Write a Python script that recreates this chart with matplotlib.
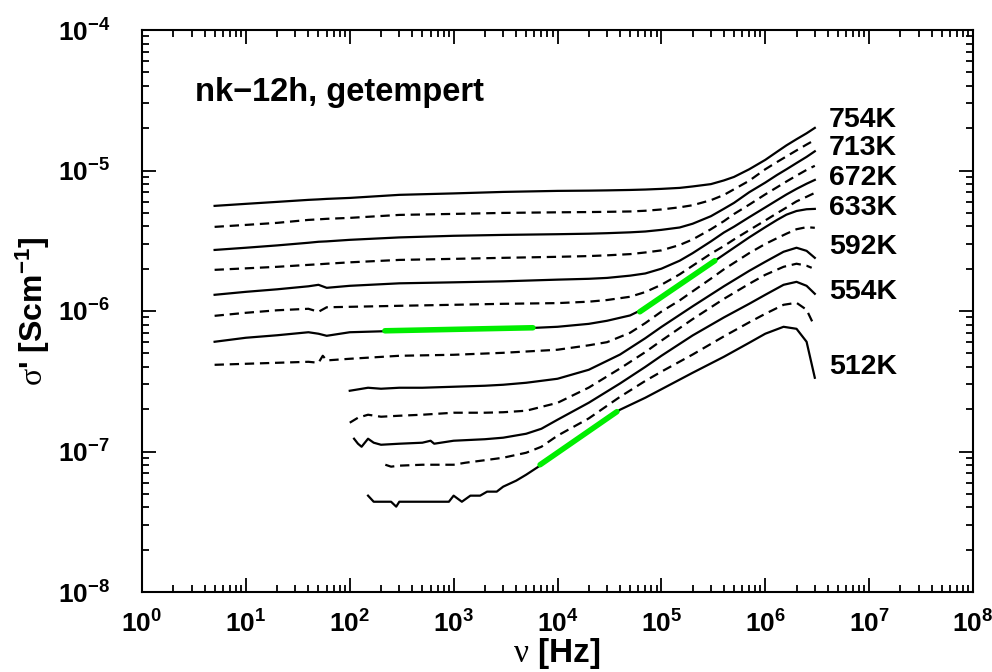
import numpy as np
import matplotlib
matplotlib.use("Agg")
import matplotlib.pyplot as plt
from matplotlib.ticker import FixedLocator, LogLocator, NullFormatter, FuncFormatter

plt.rcParams['font.family'] = ['Liberation Sans', 'DejaVu Sans']
plt.rcParams['mathtext.fontset'] = 'custom'
plt.rcParams['mathtext.rm'] = 'Liberation Serif'
plt.rcParams['mathtext.bf'] = 'Liberation Sans:bold'
plt.rcParams['mathtext.it'] = 'Liberation Sans:italic'

# ---- measured conductivity spectra, sigma' in uS/cm ----
# high-temperature runs start at 5 Hz
freq_a = [5, 10, 20, 40, 50, 60, 100, 300, 1e3, 3e3, 1e4, 2e4, 3e4, 5e4, 7e4,
          1e5, 1.5e5, 2e5, 3e5, 4e5, 5e5, 7e5, 1e6, 1.3e6, 1.6e6, 2e6, 2.5e6, 3e6]
sigma_754K = [5.60, 5.79, 5.98, 6.18, 6.23, 6.28, 6.38, 6.71, 6.87, 7.04,
              7.16, 7.19, 7.22, 7.27, 7.32, 7.40, 7.52, 7.7, 8.0, 8.5, 9.0,
              10.2, 11.9, 13.6, 15.1, 16.7, 18.4, 20.1]
sigma_d1 = [3.97, 4.10, 4.24, 4.45, 4.49, 4.53, 4.60, 4.83, 4.91, 4.99,
            5.04, 5.06, 5.08, 5.11, 5.17, 5.28, 5.47, 5.66, 6.15, 6.7, 7.35,
            8.45, 10.2, 11.5, 12.6, 13.9, 15.3, 16.5]
sigma_713K = [2.72, 2.82, 2.93, 3.06, 3.11, 3.13, 3.21, 3.34, 3.43, 3.48,
              3.52, 3.55, 3.58, 3.63, 3.68, 3.78, 3.93, 4.18, 4.73, 5.34, 5.88,
              7.0, 8.2, 9.3, 10.2, 11.3, 12.5, 13.7]
sigma_d2 = [1.963, 2.012, 2.063, 2.13, 2.15, 2.17, 2.22, 2.31, 2.35, 2.39,
            2.43, 2.46, 2.49, 2.54, 2.61, 2.70, 2.95, 3.23, 3.82, 4.36, 4.90,
            5.71, 6.76, 7.6, 8.35, 9.2, 10.1, 10.8]
sigma_672K = [1.304, 1.369, 1.427, 1.499, 1.536, 1.462, 1.511, 1.574, 1.600,
              1.626, 1.672, 1.695, 1.72, 1.785, 1.85, 2.0, 2.28, 2.58, 3.13,
              3.62, 3.98, 4.65, 5.46, 6.15, 6.75, 7.4, 8.05, 8.57]
sigma_d3 = [0.924, 0.971, 1.012, 1.037, 0.987, 1.063, 1.071, 1.089, 1.107,
            1.125, 1.138, 1.165, 1.197, 1.263, 1.364, 1.537, 1.824, 2.10, 2.56,
            2.90, 3.23, 3.76, 4.41, 4.97, 5.45, 6.03, 6.5, 6.93]
sigma_633K = [0.604, 0.645, 0.672, 0.706, 0.689, 0.666, 0.706, 0.723, 0.735,
              0.741, 0.772, 0.81, 0.852, 0.93, 1.05, 1.253, 1.535, 1.773, 2.18,
              2.52, 2.82, 3.34, 3.95, 4.45, 4.85, 5.15, 5.3, 5.33]
freq_d4 = [5, 10, 20, 40, 50, 55, 60, 100, 300, 1e3, 3e3, 1e4, 2e4, 3e4, 5e4,
           7e4, 1e5, 1.5e5, 2e5, 3e5, 4e5, 5e5, 7e5, 1e6, 1.3e6, 1.6e6, 2e6,
           2.5e6, 3e6]
sigma_d4 = [0.414, 0.421, 0.428, 0.435, 0.428, 0.480, 0.445, 0.457, 0.480, 0.488,
            0.504, 0.530, 0.57, 0.60, 0.70, 0.82, 0.99, 1.19, 1.38, 1.70, 1.98,
            2.2, 2.58, 3.0, 3.3, 3.55, 3.82, 3.95, 3.91]

# low-temperature runs start at ~100-200 Hz
freq_592K = [100, 150, 200, 300, 500, 1e3, 2e3, 3e3, 5e3, 1e4, 2e4, 4e4, 7e4,
             1e5, 2e5, 4e5, 7e5, 1e6, 1.5e6, 2e6, 2.5e6, 3e6]
sigma_592K = [0.2706, 0.2843, 0.2797, 0.2843, 0.2843, 0.289, 0.2938, 0.2986,
              0.3085, 0.3294, 0.3817, 0.49, 0.64, 0.77, 1.08, 1.50, 1.93,
              2.24, 2.64, 2.82, 2.68, 2.39]
freq_d5 = [100, 120, 150, 200, 300, 500, 1e3, 2e3, 3e3, 5e3, 1e4, 2e4, 4e4, 7e4,
           1e5, 2e5, 4e5, 7e5, 1e6, 1.5e6, 2e6, 2.5e6, 2.8e6]
sigma_d5 = [0.1603, 0.1739, 0.1827, 0.1768, 0.1797, 0.1827, 0.1888, 0.1888,
            0.1903, 0.1951, 0.222, 0.285, 0.39, 0.51, 0.615, 0.875, 1.22,
            1.561, 1.809, 2.063, 2.17, 2.10, 2.03]
freq_554K = [110, 120, 130, 150, 170, 200, 300, 500, 600, 650, 1e3, 2e3, 3e3,
             5e3, 7e3, 1e4, 2e4, 4e4, 7e4, 1e5, 2e5, 4e5, 7e5, 1e6, 1.5e6, 2e6,
             2.5e6, 3e6]
sigma_554K = [0.1233, 0.1136, 0.1081, 0.1233, 0.1155, 0.1117, 0.1136, 0.1155,
              0.1193, 0.1136, 0.1193, 0.1223, 0.1254, 0.1338, 0.1452, 0.1683,
              0.2224, 0.305, 0.40, 0.48, 0.67, 0.90, 1.125, 1.304, 1.536,
              1.613, 1.511, 1.326]
freq_d6 = [220, 250, 300, 500, 1e3, 1.3e3, 2e3, 3e3, 5e3, 7e3, 1e4, 2e4, 4e4,
           7e4, 1e5, 2e5, 4e5, 7e5, 1e6, 1.5e6, 2e6, 2.5e6, 2.9e6]
sigma_d6 = [0.0805, 0.0780, 0.0793, 0.0805, 0.0805, 0.0832, 0.0867, 0.0903,
            0.0980, 0.1081, 0.1296, 0.172, 0.245, 0.318, 0.37, 0.49,
            0.66, 0.83, 0.955, 1.107, 1.144, 1.020, 0.811]
freq_512K = [150, 170, 200, 250, 280, 300, 500, 700, 900, 1e3, 1.2e3, 1.45e3,
             1.8e3, 2.1e3, 2.6e3, 3e3, 4e3, 5e3, 7e3, 1e4, 2e4, 4e4, 7e4, 1e5,
             2e5, 4e5, 7e5, 1e6, 1.5e6, 2e6, 2.5e6, 3e6]
sigma_512K = [0.0485, 0.0439, 0.0439, 0.0439, 0.0405, 0.0439, 0.0439, 0.0439,
              0.0439, 0.0485, 0.0439, 0.0485, 0.0485, 0.0518, 0.0518, 0.0562,
              0.0620, 0.0684, 0.0805, 0.0981, 0.1405, 0.1983, 0.2413, 0.2773,
              0.3634, 0.4724, 0.594, 0.689, 0.772, 0.747, 0.604, 0.3348]

# plateau and power-law fits (freq range, sigma' range in uS/cm)
fit_dc_633K_f = [218, 5.8e3]
fit_dc_633K_s = [0.723, 0.760]
fit_ac_633K_f = [6.2e4, 3.27e5]
fit_ac_633K_s = [0.987, 2.28]
fit_ac_512K_f = [6.8e3, 3.73e4]
fit_ac_512K_s = [0.0805, 0.192]

temp_labels = ['754K', '713K', '672K', '633K', '592K', '554K', '512K']
temp_label_sigma = [22.9, 14.5, 8.86, 5.42, 2.86, 1.37, 0.401]

solid = [(freq_a, sigma_754K), (freq_a, sigma_713K), (freq_a, sigma_672K),
         (freq_a, sigma_633K), (freq_592K, sigma_592K), (freq_554K, sigma_554K),
         (freq_512K, sigma_512K)]
dashed = [(freq_a, sigma_d1), (freq_a, sigma_d2), (freq_a, sigma_d3),
          (freq_d4, sigma_d4), (freq_d5, sigma_d5), (freq_d6, sigma_d6)]

uS = 1e-6

fig = plt.figure(figsize=(9.92, 6.72), dpi=100)
ax = fig.add_axes([142 / 992, 80 / 672, 831 / 992, 562 / 672])
ax.set_xscale('log')
ax.set_yscale('log')
ax.set_xlim(1, 1e8)
ax.set_ylim(1e-8, 1e-4)

for f, s in solid:
    ax.plot(f, np.asarray(s) * uS, color='black', lw=1.6, solid_joinstyle='round')
for f, s in dashed:
    ax.plot(f, np.asarray(s) * uS, color='black', lw=1.6, linestyle=(0, (4.2, 2.6)))

green = '#00ee00'
for f, s in [(fit_dc_633K_f, fit_dc_633K_s), (fit_ac_633K_f, fit_ac_633K_s),
             (fit_ac_512K_f, fit_ac_512K_s)]:
    ax.plot(f, np.asarray(s) * uS, color=green, lw=4.0, solid_capstyle='round', zorder=5)

for lab, s in zip(temp_labels, temp_label_sigma):
    ax.text(4.1e6, s * uS, lab, fontsize=20.5, fontweight='bold', va='center', ha='left')

ax.text(0.064, 0.889, 'nk\u221212h, getempert', transform=ax.transAxes,
        fontsize=23.5, fontweight='bold', va='center', ha='left')

# ticks
decades_x = [10.0 ** k for k in range(0, 9)]
decades_y = [10.0 ** k for k in range(-8, -3)]
ax.xaxis.set_major_locator(FixedLocator(decades_x))
ax.yaxis.set_major_locator(FixedLocator(decades_y))
ax.xaxis.set_minor_locator(LogLocator(base=10, subs=np.arange(2, 10), numticks=20))
ax.yaxis.set_minor_locator(LogLocator(base=10, subs=np.arange(2, 10), numticks=20))
ax.xaxis.set_minor_formatter(NullFormatter())
ax.yaxis.set_minor_formatter(NullFormatter())
fmt = FuncFormatter(lambda v, p: r'$\mathbf{10^{%d}}$' % int(round(np.log10(v))))
ax.xaxis.set_major_formatter(fmt)
ax.yaxis.set_major_formatter(fmt)
ax.tick_params(which='both', direction='in', top=True, right=True, width=1.3)
ax.tick_params(which='major', length=10, labelsize=19)
ax.tick_params(which='minor', length=5)
ax.tick_params(axis='x', which='major', pad=13)
ax.tick_params(axis='y', which='major', pad=23)
for sp in ax.spines.values():
    sp.set_linewidth(1.5)

fig.text(557 / 992, 10 / 672, r'$\mathrm{\nu}$ [Hz]', fontsize=24, fontweight='bold',
         ha='center', va='baseline')
ax.set_ylabel(r"$\mathrm{\sigma}$' [Scm$^{\mathbf{-1}}$]", fontsize=23,
              fontweight='bold', labelpad=4)

fig.savefig('out.png', dpi=100)
